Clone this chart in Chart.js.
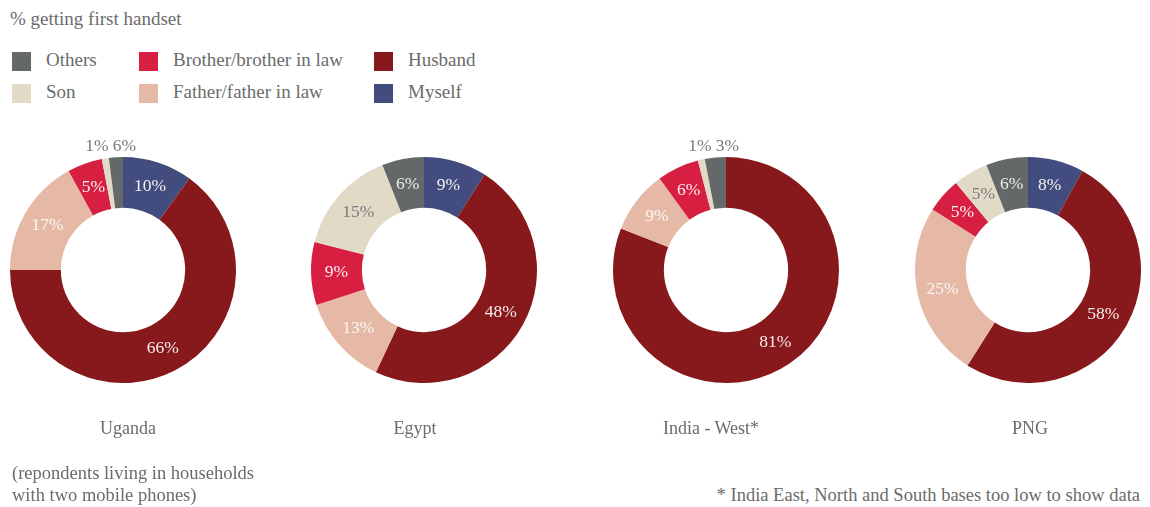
<!DOCTYPE html>
<html>
<head>
<meta charset="utf-8">
<script src="https://cdn.jsdelivr.net/npm/chart.js"></script>
<style>
  body {
    margin: 0;
    width: 1150px;
    height: 507px;
    background: #fff;
    position: relative;
    overflow: hidden;
    font-family: "Liberation Serif", serif;
    color: #6b6b6b;
  }
  .txt { position: absolute; font-size: 19px; white-space: nowrap; }
  .foot { position: absolute; font-size: 18.5px; white-space: nowrap; }
  .sw { position: absolute; width: 19px; height: 19px; }
  .donut { position: absolute; top: 120px; width: 300px; height: 300px; }
  .country { position: absolute; top: 418px; font-size: 18px; transform: translateX(-50%); white-space: nowrap; }
</style>
</head>
<body>
<div class="txt" style="left:10px; top:8px;">% getting first handset</div>
<div id="legend"></div>
<div id="charts"></div>
<div class="foot" style="left:12px; top:463px;">(repondents living in households</div>
<div class="foot" style="left:12px; top:485px;">with two mobile phones)</div>
<div class="foot" style="right:10px; top:485px;">* India East, North and South bases too low to show data</div>

<script>
// categories in drawing order (clockwise from 12 o'clock)
const categories = ['Myself', 'Husband', 'Father/father in law', 'Brother/brother in law', 'Son', 'Others'];
const countries = ['Uganda', 'Egypt', 'India - West*', 'PNG'];

// slice sizes as drawn in the picture (%)
const uganda = [10, 65, 17, 5, 1, 2];
const egypt = [9, 48, 13, 9, 15, 6];
const indiaWest = [0, 81, 9, 6, 1, 3];
const png = [8, 51, 25, 5, 5, 6];

// printed labels (%)
const ugandaLabels = [10, 66, 17, 5, 1, 6];
const egyptLabels = [9, 48, 13, 9, 15, 6];
const indiaWestLabels = [null, 81, 9, 6, 1, 3];
const pngLabels = [8, 58, 25, 5, 5, 6];

const colors = ['#434c7e', '#87191c', '#e6b9a6', '#d71f42', '#e1dac7', '#646869'];
const labelColors = ['#f4f1ee', '#f4ece8', '#fbf6f3', '#fbeef0', '#7a7a78', '#ececec'];

// legend layout: [Others, Brother, Husband] / [Son, Father, Myself]
const legendRows = [['Others', 'Brother/brother in law', 'Husband'], ['Son', 'Father/father in law', 'Myself']];
const legendX = [12, 139, 374];
const legendY = [52, 84];
const legendEl = document.getElementById('legend');
legendRows.forEach((row, r) => {
  row.forEach((name, c) => {
    const sw = document.createElement('div');
    sw.className = 'sw';
    sw.style.left = legendX[c] + 'px';
    sw.style.top = legendY[r] + 'px';
    sw.style.background = colors[categories.indexOf(name)];
    legendEl.appendChild(sw);
    const t = document.createElement('div');
    t.className = 'txt';
    t.style.left = (legendX[c] + 34) + 'px';
    t.style.top = (legendY[r] - 3) + 'px';
    t.textContent = name;
    legendEl.appendChild(t);
  });
});

// slice labels: inside the ring, tiny slices go above the ring in a row
const sliceLabels = {
  id: 'sliceLabels',
  afterDatasetsDraw(chart) {
    const opts = chart.options.plugins.sliceLabels;
    const ctx = chart.ctx;
    const meta = chart.getDatasetMeta(0);
    const data = chart.data.datasets[0].data;
    ctx.save();
    ctx.font = '17.5px "Liberation Serif", serif';
    ctx.textBaseline = 'middle';
    ctx.textAlign = 'center';
    const outside = [];
    meta.data.forEach((arc, i) => {
      const lab = opts.texts[i];
      if (lab === null || lab === undefined) return;
      const text = lab + '%';
      if (data[i] <= 3) {
        outside.push(text);
        return;
      }
      const p = arc.getCenterPoint();
      ctx.fillStyle = labelColors[i];
      ctx.fillText(text, p.x, p.y);
    });
    if (outside.length) {
      const arc0 = meta.data[0];
      const cx = arc0.x, cy = arc0.y;
      const gap = 4;
      const widths = outside.map(t => ctx.measureText(t).width);
      let x = cx + 13 - widths.reduce((a, b) => a + b, 0) - gap * (outside.length - 1);
      ctx.textAlign = 'left';
      ctx.fillStyle = '#7a7a78';
      outside.forEach((t, k) => {
        ctx.fillText(t, x, cy - 124);
        x += widths[k] + gap;
      });
    }
    ctx.restore();
  }
};

const sets = [
  { name: countries[0], values: uganda, labels: ugandaLabels, cx: 123, lx: 128 },
  { name: countries[1], values: egypt, labels: egyptLabels, cx: 424, lx: 415 },
  { name: countries[2], values: indiaWest, labels: indiaWestLabels, cx: 726, lx: 711 },
  { name: countries[3], values: png, labels: pngLabels, cx: 1028, lx: 1030 }
];

const holder = document.getElementById('charts');
sets.forEach(s => {
  const box = document.createElement('div');
  box.className = 'donut';
  box.style.left = (s.cx - 150) + 'px';
  const cv = document.createElement('canvas');
  cv.width = 300;
  cv.height = 300;
  box.appendChild(cv);
  holder.appendChild(box);

  const lbl = document.createElement('div');
  lbl.className = 'country';
  lbl.style.left = s.lx + 'px';
  lbl.textContent = s.name;
  holder.appendChild(lbl);

  new Chart(cv, {
    type: 'doughnut',
    data: {
      labels: categories,
      datasets: [{
        data: s.values,
        backgroundColor: colors,
        borderWidth: 0
      }]
    },
    options: {
      responsive: false,
      animation: false,
      cutout: '55%',
      layout: { padding: 37 },
      plugins: {
        legend: { display: false },
        tooltip: { enabled: false },
        sliceLabels: { texts: s.labels }
      }
    },
    plugins: [sliceLabels]
  });
});
</script>
</body>
</html>
